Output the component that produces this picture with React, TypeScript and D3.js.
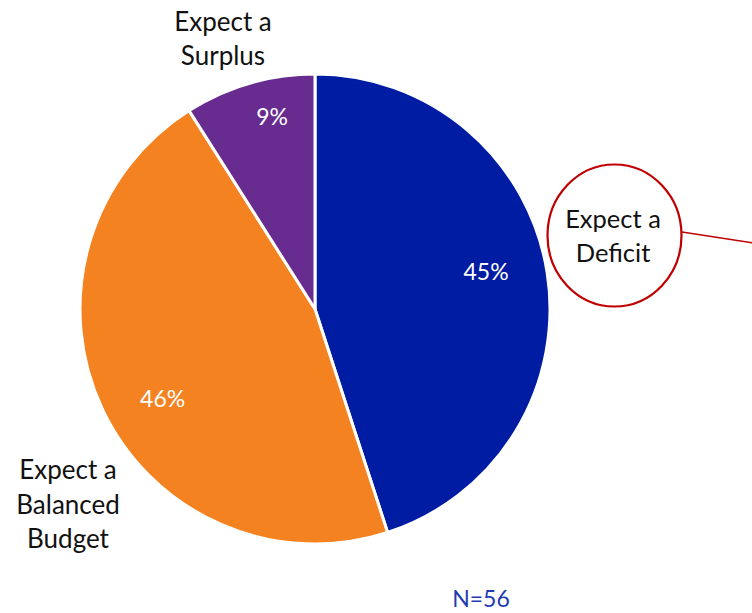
import React from "react";
import * as d3 from "d3";

const categories = ["Expect a Deficit", "Expect a Balanced Budget", "Expect a Surplus"];
const values = [45, 46, 9];
const valueLabels = ["45%", "46%", "9%"];
const colors = ["#001CA3", "#F58220", "#682C91"];
const sampleNote = "N=56";

const W = 752;
const H = 613;
const cx = 315;
const cy = 309;
const R = 235;
// label placement (radius, angular shift in degrees) per slice
const labelRadii = [175, 177, 197];
const labelShiftDeg = [-3.2, -5.4, 3.6];
const FONT = "Lato, 'Open Sans', sans-serif";

export default function App() {
  const pie = d3.pie<number>().sort(null).value((d) => d);
  const arcs = pie(values);
  const arc = d3.arc<d3.PieArcDatum<number>>().innerRadius(0).outerRadius(R);

  return (
    <svg width={W} height={H} style={{ position: "absolute", left: 0, top: 0, background: "#fff" }}>
      <g transform={`translate(${cx},${cy})`}>
        {arcs.map((a, i) => (
          <path key={i} d={arc(a) || ""} fill={colors[i]} stroke="#fff" strokeWidth={3} strokeLinejoin="round" />
        ))}
        {arcs.map((a, i) => {
          const m = (a.startAngle + a.endAngle) / 2 + (labelShiftDeg[i] * Math.PI) / 180;
          const r = labelRadii[i];
          const x = Math.sin(m) * r;
          const y = -Math.cos(m) * r;
          return (
            <text key={i} x={x} y={y} dy="0.36em" textAnchor="middle" fill="#fff" fontFamily={FONT} fontSize={23} fontWeight={400}>
              {valueLabels[i]}
            </text>
          );
        })}
      </g>

      {/* Surplus label */}
      <text x={223} y={31} textAnchor="middle" fontFamily={FONT} fontSize={26} fill="#111">
        <tspan x={223}>Expect a</tspan>
        <tspan x={223} dy={34}>Surplus</tspan>
      </text>

      {/* Balanced label */}
      <text x={68} y={479} textAnchor="middle" fontFamily={FONT} fontSize={26} fill="#111">
        <tspan x={68}>Expect a</tspan>
        <tspan x={68} dy={34.5}>Balanced</tspan>
        <tspan x={68} dy={34.5}>Budget</tspan>
      </text>

      {/* Deficit callout */}
      <line x1={682} y1={232} x2={760} y2={244} stroke="#C00000" strokeWidth={1.3} />
      <ellipse cx={614.5} cy={235.5} rx={67} ry={71} fill="#fff" stroke="#C00000" strokeWidth={2.2} />
      <text x={613} y={228} textAnchor="middle" fontFamily={FONT} fontSize={25.5} fill="#111">
        <tspan x={613}>Expect a</tspan>
        <tspan x={613} dy={34}>Deficit</tspan>
      </text>

      <text x={481} y={607} textAnchor="middle" fontFamily={FONT} fontSize={23} fill="#1F3BB3">
        {sampleNote}
      </text>
    </svg>
  );
}
